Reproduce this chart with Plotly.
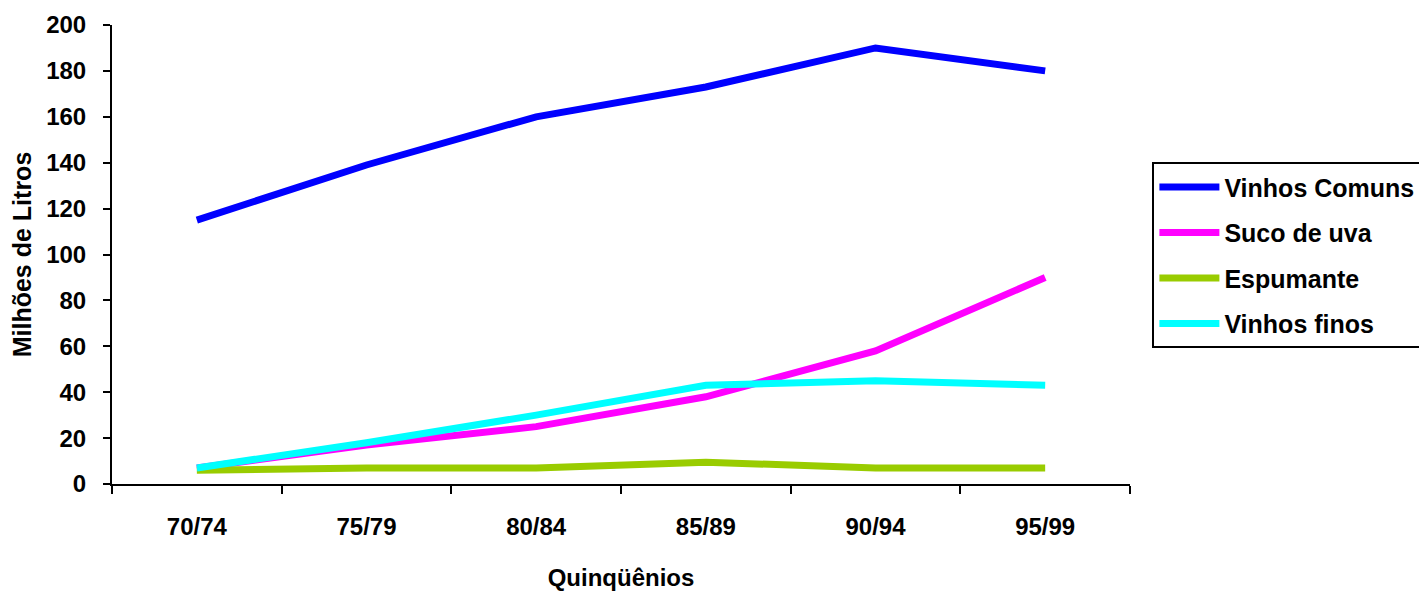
import plotly.graph_objects as go

periodos = ["70/74", "75/79", "80/84", "85/89", "90/94", "95/99"]
vinhos_comuns = [115, 139, 160, 173, 190, 180]
suco_de_uva = [7, 17, 25, 38, 58, 90]
espumante = [6, 7, 7, 9.5, 7, 7]
vinhos_finos = [7, 18, 30, 43, 45, 43]

series = [
    ("Vinhos Comuns", vinhos_comuns, "#0000FF"),
    ("Suco de uva", suco_de_uva, "#FF00FF"),
    ("Espumante", espumante, "#99CC00"),
    ("Vinhos finos", vinhos_finos, "#00FFFF"),
]

FONT = "Arial, Liberation Sans, sans-serif"

fig = go.Figure()
for i, (nome, valores, cor) in enumerate(series):
    fig.add_trace(go.Scatter(
        x=periodos, y=valores, name=nome, mode="lines",
        line=dict(color=cor, width=7), legendgroup=f"g{i}",
    ))

fig.update_layout(
    width=1419, height=591,
    margin=dict(l=112, r=289, t=25, b=107, autoexpand=False),
    paper_bgcolor="white", plot_bgcolor="white",
    font=dict(family=FONT, size=24, color="black", weight="bold"),
    showlegend=True,
    legend=dict(
        x=1.022, y=0.701, xanchor="left", yanchor="top",
        bordercolor="black", borderwidth=2, bgcolor="white",
        font=dict(family=FONT, size=25, color="black", weight="bold"),
        traceorder="grouped", tracegroupgap=10, itemwidth=60,
    ),
)

fig.update_xaxes(
    type="category", range=[-0.5, 5.5], tickson="boundaries",
    showline=True, linecolor="black", linewidth=2,
    ticks="outside", ticklen=8, tickwidth=2, tickcolor="black",
    showgrid=False, zeroline=False, ticklabelstandoff=20,
    automargin=False,
    title=dict(text="Quinqüênios", standoff=36,
               font=dict(family=FONT, size=24, weight="bold")),
    tickfont=dict(family=FONT, size=24, weight="bold"),
)
fig.update_yaxes(
    range=[0, 200], dtick=20, tick0=0,
    showline=True, linecolor="black", linewidth=2,
    ticks="outside", ticklen=7, tickwidth=2, tickcolor="black",
    showgrid=False, zeroline=False, ticklabelstandoff=12,
    automargin=False,
    title=dict(text="Milhões de Litros", standoff=7,
               font=dict(family=FONT, size=25, weight="bold")),
    tickfont=dict(family=FONT, size=24, weight="bold"),
)

fig.write_html("out.html")
